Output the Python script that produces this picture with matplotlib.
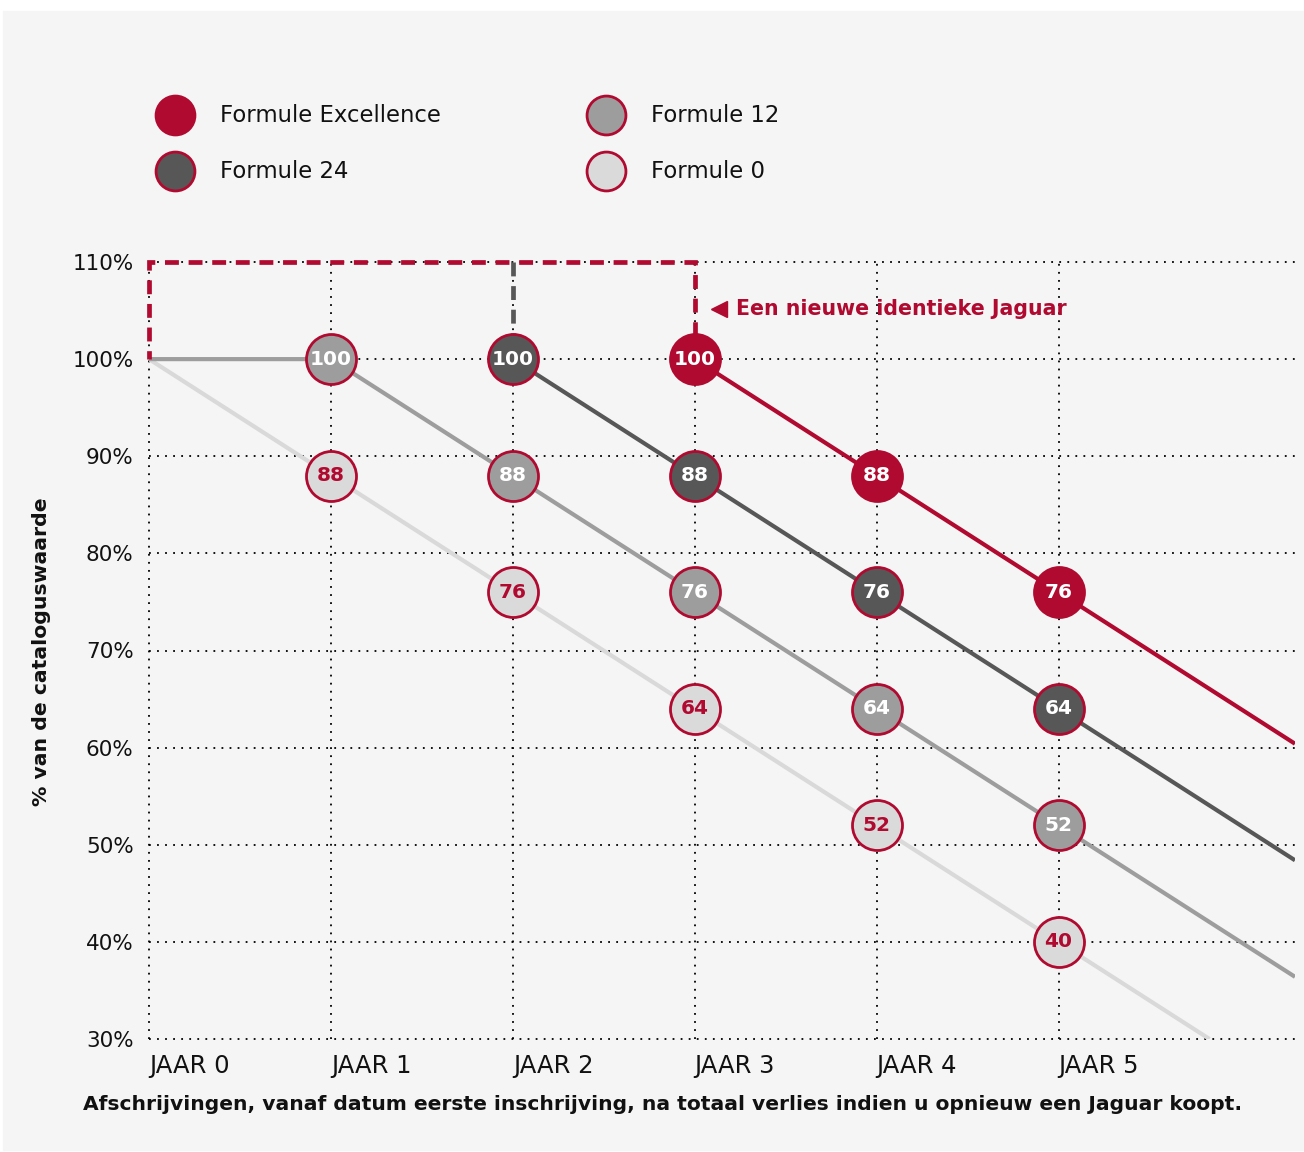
import matplotlib
matplotlib.use("Agg")
import matplotlib.pyplot as plt
from matplotlib.patches import Rectangle
from matplotlib.lines import Line2D

plt.rcParams['font.family'] = ['DejaVu Sans']
plt.rcParams['lines.scale_dashes'] = False

# data
years = [0, 1, 2, 3, 4, 5]
year_labels = ['JAAR 0', 'JAAR 1', 'JAAR 2', 'JAAR 3', 'JAAR 4', 'JAAR 5']
pct_ticks = [30, 40, 50, 60, 70, 80, 90, 100, 110]

names = ['Formule Excellence', 'Formule 24', 'Formule 12', 'Formule 0']

f0_x = [1, 2, 3, 4, 5]
f0_y = [88, 76, 64, 52, 40]
f0_line_x = [0, 5.83]
f0_line_y = [100, 30]

f12_x = [1, 2, 3, 4, 5]
f12_y = [100, 88, 76, 64, 52]
f12_line_x = [0, 1, 6.3]
f12_line_y = [100, 100, 36.4]

f24_x = [2, 3, 4, 5]
f24_y = [100, 88, 76, 64]
f24_line_x = [2, 6.3]
f24_line_y = [100, 48.4]

fe_x = [3, 4, 5]
fe_y = [100, 88, 76]
fe_line_x = [3, 6.3]
fe_line_y = [100, 60.4]

# dashed "new car" frame
frame_x = [0, 0, 3, 3]
frame_y = [100, 110, 110, 100]
f24_frame_x = [2, 2]
f24_frame_y = [110, 100]

RED = '#b00a30'
DARK = '#575757'
MID = '#9d9d9d'
LIGHT = '#dadada'
LIGHT_LINE = '#d9d9d9'
BG = '#f5f5f5'
INK = '#111111'

W, H = 1304, 1152
fig = plt.figure(figsize=(W / 100, H / 100), dpi=100, facecolor='white')
fig.patches.append(Rectangle((3 / W, 2 / H), 1 - 3 / W, 1 - 13 / H,
                             transform=fig.transFigure, color=BG, zorder=-10))

ax = fig.add_axes([149 / W, 1 - 1039 / H, 1146 / W, (1039 - 262) / H])
ax.set_facecolor('none')
ax.set_xlim(0, 6.3)
ax.set_ylim(30, 110)
for s in ax.spines.values():
    s.set_visible(False)

# grid
dot = (0, (1.3, 4.5))
for p in pct_ticks:
    ax.plot([0, 6.3], [p, p], color='black', lw=1.3, ls=dot, zorder=1, clip_on=False)
for yr in years:
    ax.plot([yr, yr], [30, 110], color='black', lw=1.3, ls=dot, zorder=1, clip_on=False)

ax.set_xticks(years)
ax.set_xticklabels(year_labels, ha='left', fontsize=17.5)
ax.set_yticks(pct_ticks)
ax.set_yticklabels([f'{p}%' for p in pct_ticks], fontsize=15.5)
ax.tick_params(axis='both', length=0, colors=INK)
ax.tick_params(axis='x', pad=11)
ax.tick_params(axis='y', pad=11)

# lines
ax.plot(f0_line_x, f0_line_y, color=LIGHT_LINE, lw=3, zorder=2, solid_capstyle='butt')
ax.plot(f12_line_x, f12_line_y, color=MID, lw=3, zorder=2, solid_capstyle='butt')
ax.plot(f24_line_x, f24_line_y, color=DARK, lw=3, zorder=2, solid_capstyle='butt')
ax.plot(fe_line_x, fe_line_y, color=RED, lw=3, zorder=2, solid_capstyle='butt')

dashed = (0, (10, 7))
ax.plot(f24_frame_x, f24_frame_y, color=DARK, lw=3.4, ls=dashed, zorder=2,
        clip_on=False, dash_capstyle='butt')
ax.plot(frame_x, frame_y, color=RED, lw=3.4, ls=(4, (10, 7)), zorder=3, clip_on=False,
        dash_capstyle='butt', dash_joinstyle='miter')

# points
series = [
    (f0_x, f0_y, LIGHT, RED),
    (f12_x, f12_y, MID, 'white'),
    (f24_x, f24_y, DARK, 'white'),
    (fe_x, fe_y, RED, 'white'),
]
for xs, ys, fill, tc in series:
    ax.plot(xs, ys, 'o', ms=36, mfc=fill, mec=RED, mew=2, zorder=5, clip_on=False)
    for x, y in zip(xs, ys):
        ax.text(x, y, str(y), ha='center', va='center', color=tc, fontsize=14.5,
                fontweight='bold', zorder=6)

# annotation
ax.plot([3.135], [105.2], marker='<', ms=11, color=RED, zorder=4, clip_on=False)
ax.text(3.225, 105.2, 'Een nieuwe identieke Jaguar', color=RED, fontsize=14.8,
        fontweight='bold', va='center', ha='left')

# axis titles
fig.text(42 / W, 1 - 652 / H, '% van de cataloguswaarde', rotation=90, ha='center',
         va='center', fontsize=14.7, fontweight='bold', color=INK)
fig.text(83 / W, 1 - 1105 / H,
         'Afschrijvingen, vanaf datum eerste inschrijving, na totaal verlies indien u opnieuw een Jaguar koopt.',
         ha='left', va='center', fontsize=14.6, fontweight='bold', color=INK)

# legend
legend_items = [
    (175, 115, RED, names[0]),
    (175, 171, DARK, names[1]),
    (606, 115, MID, names[2]),
    (606, 171, LIGHT, names[3]),
]
for px, py, fill, label in legend_items:
    fig.add_artist(Line2D([px / W], [1 - py / H], marker='o', ms=28, mfc=fill,
                          mec=RED, mew=2, transform=fig.transFigure))
    fig.text((px + 45) / W, 1 - py / H, label, ha='left', va='center',
             fontsize=16.4, color=INK)

fig.savefig('out.png', dpi=100, facecolor='white')
